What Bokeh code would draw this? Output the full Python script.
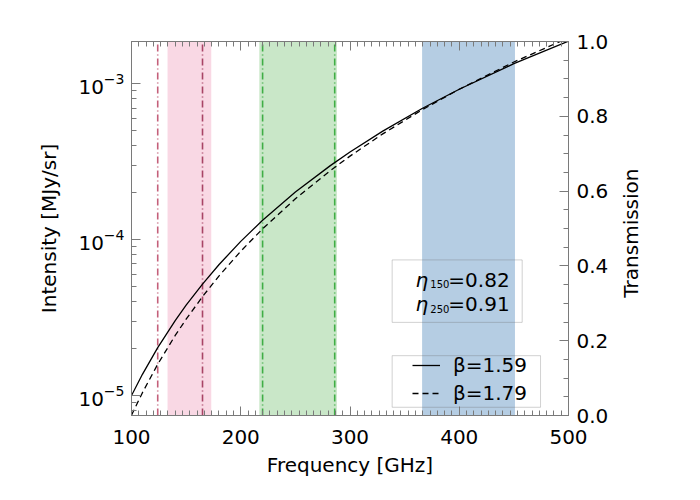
from bokeh.plotting import figure
from bokeh.models import (ColumnDataSource, Range1d, LinearAxis, LinearScale, SingleIntervalTicker,
                          FixedTicker, LogTicker, Legend, LegendItem, Label, BoxAnnotation,
                          PrintfTickFormatter)
from bokeh.embed import file_html
from bokeh.resources import INLINE

# frequency grid (GHz) and modelled dust intensity (MJy/sr)
freq = [100, 110, 124, 140, 150, 165, 180, 200, 220, 250, 282, 300, 330, 366, 400, 450, 500]
int_b159 = [1.000e-5, 1.369e-5, 2.032e-5, 3.029e-5, 3.800e-5, 5.195e-5, 6.913e-5, 9.759e-5,
            1.332e-4, 2.021e-4, 2.988e-4, 3.653e-4, 4.972e-4, 6.946e-4, 9.240e-4, 1.347e-3, 1.880e-3]
int_b179 = [7.48e-6, 1.044e-5, 1.589e-5, 2.430e-5, 3.092e-5, 4.313e-5, 5.845e-5, 8.436e-5,
            1.175e-4, 1.831e-4, 2.778e-4, 3.439e-4, 4.776e-4, 6.818e-4, 9.240e-4, 1.381e-3, 1.976e-3]
beta_labels = ["β=1.59", "β=1.79"]

# detector bands (shaded) and filter edges (dash-dot lines)
band_lo = [133, 217, 366]
band_hi = [173, 288, 451]
band_colors = ["#f9d8e4", "#c9e7c8", "#b5cde3"]
edge_freq = [124, 165, 220, 286]
edge_colors = ["#c4607a", "#a84466", "#3fae45", "#3fae45"]

eta_names = ["150", "250"]
eta_values = ["=0.82", "=0.91"]

font = "DejaVu Sans"
fs = "20px"
grey = "#7a7a7a"

p = figure(width=684, height=484, x_range=Range1d(100, 500),
           y_range=Range1d(7.45e-6, 1.87e-3), y_axis_type="log",
           output_backend="svg", toolbar_location=None,
           min_border_left=131, min_border_right=116, min_border_top=41, min_border_bottom=69)
p.extra_y_ranges = {"trans": Range1d(0, 1)}
p.extra_y_scales = {"trans": LinearScale()}
p.grid.visible = False
p.outline_line_color = grey

bands = ColumnDataSource(data=dict(left=band_lo, right=band_hi, color=band_colors))
p.quad(left='left', right='right', bottom=0, top=1, y_range_name="trans", source=bands,
       fill_color='color', line_color=None)

edges = ColumnDataSource(data=dict(x=edge_freq, color=edge_colors))
p.segment(x0='x', x1='x', y0=0, y1=1, y_range_name="trans", source=edges,
          line_color='color', line_width=1.6, line_dash="7 3 1 3")

r1 = p.line(freq, int_b159, line_color="black", line_width=1.3)
r2 = p.line(freq, int_b179, line_color="black", line_width=1.3, line_dash="6 4")

# axes
def style(ax, labels=True):
    ax.axis_line_color = grey
    ax.major_tick_line_color = grey
    ax.minor_tick_line_color = grey
    ax.major_tick_in = 9
    ax.major_tick_out = 0
    ax.minor_tick_in = 5
    ax.minor_tick_out = 0
    ax.major_label_text_font = font
    ax.major_label_text_font_size = fs
    ax.major_label_text_color = "black" if labels else None
    ax.axis_label_text_font = font
    ax.axis_label_text_font_size = fs
    ax.axis_label_text_font_style = "normal"
    ax.axis_label_text_color = "black"

xa = p.xaxis[0]
xa.ticker = SingleIntervalTicker(interval=100, num_minor_ticks=15)
xa.axis_label = "Frequency [GHz]"
xa.major_label_standoff = 14
xa.axis_label_standoff = 6
style(xa)

ya = p.yaxis[0]
ya.ticker = LogTicker(num_minor_ticks=10)
ya.axis_label = "Intensity [MJy/sr]"
ya.major_label_standoff = 7
ya.axis_label_standoff = 14
style(ya)

top = LinearAxis(ticker=SingleIntervalTicker(interval=100, num_minor_ticks=15))
style(top, labels=False)
p.add_layout(top, "above")

ra = LinearAxis(y_range_name="trans", formatter=PrintfTickFormatter(format="%.1f"),
                ticker=SingleIntervalTicker(interval=0.2, num_minor_ticks=4))
style(ra)
ra.major_label_standoff = 8
p.add_layout(ra, "right")

# right-hand title, reading upward: one rotated tick label on a bare axis,
# its tick set where the text should start so the word sits centred
title_start = 0.315
rt = LinearAxis(y_range_name="trans", ticker=FixedTicker(ticks=[title_start]),
                major_label_overrides={title_start: "Transmission"},
                major_label_orientation=1.5708)
style(rt)
rt.axis_line_color = None
rt.major_tick_line_color = None
rt.major_label_standoff = 20
p.add_layout(rt, "right")

# efficiency box
p.add_layout(BoxAnnotation(left=338.6, right=457.6, bottom=0.249, top=0.416, y_range_name="trans",
                           fill_color=None, line_color="#666666", line_width=1))
for yy, name, val in zip([0.363, 0.297], eta_names, eta_values):
    p.add_layout(Label(x=360, y=yy, y_range_name="trans", text="η", text_font=font,
                       text_font_size=fs, text_font_style="italic", text_baseline="middle",
                       text_color="black"))
    p.add_layout(Label(x=373.5, y=yy - 0.012, y_range_name="trans", text=name, text_font=font,
                       text_font_size="10px", text_baseline="middle", text_color="black"))
    p.add_layout(Label(x=390, y=yy, y_range_name="trans", text=val, text_font=font,
                       text_font_size=fs, text_baseline="middle", text_color="black"))

# beta legend: key in a frame box
p.add_layout(BoxAnnotation(left=338.6, right=474.4, bottom=0.022, top=0.160, y_range_name="trans",
                           fill_color=None, line_color="#666666", line_width=1))
legend = Legend(items=[LegendItem(label=l, renderers=[r]) for l, r in zip(beta_labels, [r1, r2])],
                location=(281, 10), border_line_color=None, background_fill_alpha=0,
                label_text_font=font, label_text_font_size=fs, label_text_color="black",
                glyph_width=28, glyph_height=22, label_height=22, label_standoff=13,
                padding=0, spacing=4, margin=0)
p.add_layout(legend, "center")

open("out.html", "w").write(file_html(p, INLINE))
